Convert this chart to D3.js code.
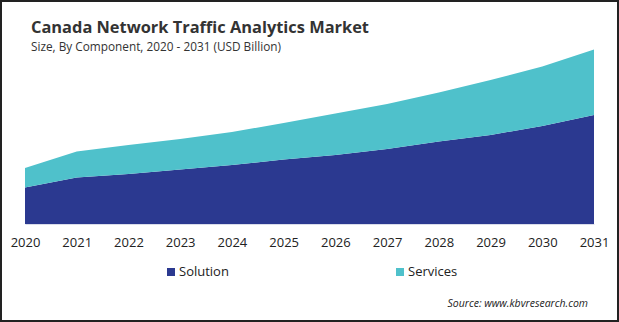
<!DOCTYPE html>
<html>
<head>
<meta charset="utf-8">
<script src="https://cdn.jsdelivr.net/npm/d3@7"></script>
<style>
  body { margin: 0; background: #fff; }
  svg { display: block; font-family: "Open Sans", "Noto Sans", sans-serif; }
</style>
</head>
<body>
<div class="chart"></div>
<script>
// data (USD Billion)
var years = [2020, 2021, 2022, 2023, 2024, 2025, 2026, 2027, 2028, 2029, 2030, 2031];
var solution = [0.073, 0.093, 0.100, 0.109, 0.118, 0.129, 0.138, 0.150, 0.165, 0.178, 0.196, 0.218];
var services = [0.039, 0.052, 0.058, 0.061, 0.066, 0.073, 0.083, 0.090, 0.098, 0.110, 0.119, 0.131];
var seriesNames = ["Solution", "Services"];
var colors = ["#2b3990", "#4fc1cb"];

var svgWidth = 619;
var svgHeight = 322;

var svg = d3.select(".chart")
  .append("svg")
  .attr("width", svgWidth)
  .attr("height", svgHeight);

// frame
svg.append("rect")
  .attr("x", 1).attr("y", 1)
  .attr("width", svgWidth - 2).attr("height", svgHeight - 2)
  .attr("fill", "none")
  .attr("stroke", "#222")
  .attr("stroke-width", 2);

// title
svg.append("text")
  .attr("x", 31).attr("y", 33)
  .attr("font-size", 16.4)
  .attr("font-weight", "bold")
  .attr("fill", "#333")
  .text("Canada Network Traffic Analytics Market");

svg.append("text")
  .attr("x", 31).attr("y", 51)
  .attr("font-size", 11.8)
  .attr("fill", "#333")
  .text("Size, By Component,  2020 - 2031 (USD Billion)");

var table = years.map(function (y, i) {
  return { year: y, Solution: solution[i], Services: services[i] };
});

var stack = d3.stack().keys(seriesNames);
var stacked = stack(table);

var x = d3.scalePoint()
  .domain(years)
  .range([25, 594]);

var y = d3.scaleLinear()
  .domain([0, 0.349])
  .range([224, 49.5]);

var area = d3.area()
  .x(function (d) { return x(d.data.year); })
  .y0(function (d) { return y(d[0]); })
  .y1(function (d) { return y(d[1]); });

svg.selectAll(".layer")
  .data(stacked)
  .enter()
  .append("path")
  .attr("class", "layer")
  .attr("fill", function (d, i) { return colors[i]; })
  .attr("d", area);

// x axis
var xAxis = svg.append("g")
  .attr("transform", "translate(0, 224)")
  .call(d3.axisBottom(x).tickSize(0).tickPadding(14));

xAxis.select(".domain").attr("stroke", "#d9dcea");
xAxis.selectAll("text")
  .attr("font-size", 13)
  .attr("fill", "#222")
  .attr("font-family", "'Open Sans', 'Noto Sans', sans-serif");

// legend
var legendX = [167, 396];
var legend = svg.selectAll(".legend")
  .data(seriesNames)
  .enter()
  .append("g")
  .attr("class", "legend")
  .attr("transform", function (d, i) { return "translate(" + legendX[i] + ", 268)"; });

legend.append("rect")
  .attr("width", 8).attr("height", 8)
  .attr("fill", function (d, i) { return colors[i]; });

legend.append("text")
  .attr("x", 12).attr("y", 8)
  .attr("font-size", 13)
  .attr("fill", "#222")
  .text(function (d) { return d; });

// source
svg.append("text")
  .attr("x", 588).attr("y", 307)
  .attr("text-anchor", "end")
  .attr("font-size", 10.5)
  .attr("font-style", "italic")
  .attr("fill", "#222")
  .text("Source: www.kbvresearch.com");
</script>
</body>
</html>
